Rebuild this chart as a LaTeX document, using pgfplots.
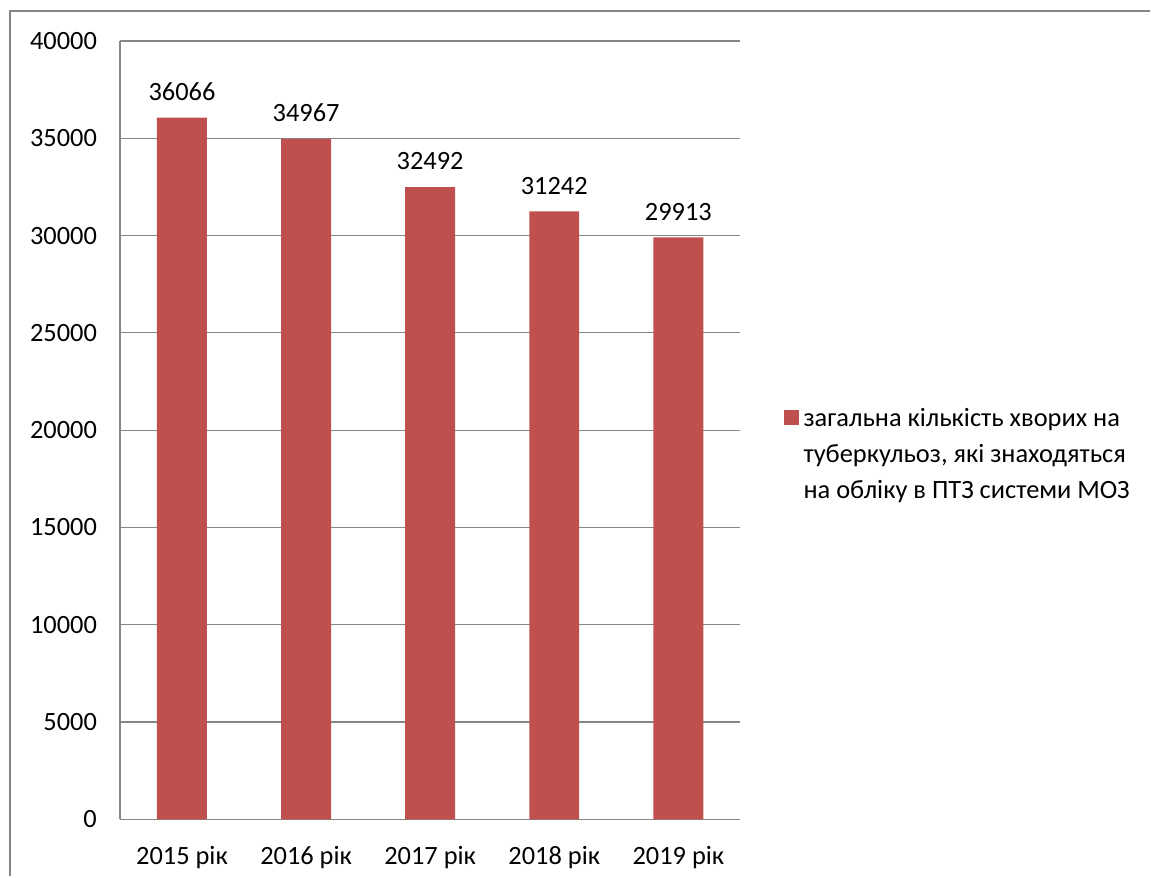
\documentclass[border=0pt]{standalone}
\usepackage{pgfplots}
\pgfplotsset{compat=1.18}
\usepackage{fontspec}
\setmainfont{Carlito}
\definecolor{barred}{HTML}{C0504D}
\definecolor{linegray}{HTML}{868686}
\newcommand{\chartfont}{\fontsize{13.2}{18}\selectfont}
\begin{document}
\begin{tikzpicture}[x=1pt,y=1pt]
% page frame
\path (0,0) rectangle (575.5,438.5);
\draw[linegray, line width=0.9pt] (5,0) -- (5,433) -- (575.5,433);
\begin{axis}[
  at={(60pt,28.5pt)}, anchor=south west,
  scale only axis, width=310.5pt, height=389.5pt,
  ymin=0, ymax=40000, ytick={0,5000,...,40000},
  xmin=-0.5, xmax=4.5, xtick={0,1,2,3,4},
  xticklabels={2015 рік,2016 рік,2017 рік,2018 рік,2019 рік},
  ybar, bar width=25pt,
  axis x line*=bottom, axis y line*=left,
  ymajorgrids, grid style={linegray, line width=0.6pt},
  axis line style={linegray, line width=0.8pt, -},
  major tick length=0pt,
  tick label style={font=\chartfont},
  scaled y ticks=false,
  /pgf/number format/1000 sep={},
  /pgf/number format/assume math mode=true,
  yticklabel style={xshift=-8pt},
  xticklabel style={yshift=-10pt},
  nodes near coords,
  every node near coord/.append style={font=\chartfont, anchor=south, yshift=5pt},
  legend style={draw=none, at={(1.0593,0.536)}, anchor=north west,
    font=\chartfont, nodes={align=left, inner ysep=1pt, inner xsep=2.5pt}},
  legend cell align=left,
  legend image code/.code={%
    \fill[barred] (0pt,15.25pt) rectangle (7.5pt,22.75pt);},
]
\addplot[fill=barred, draw=none] coordinates {
  (0,36066) (1,34967) (2,32492) (3,31242) (4,29913)
};
\addlegendentry{загальна кількість хворих на\\туберкульоз, які знаходяться\\на обліку в ПТЗ системи МОЗ}
\end{axis}
\end{tikzpicture}
\end{document}
